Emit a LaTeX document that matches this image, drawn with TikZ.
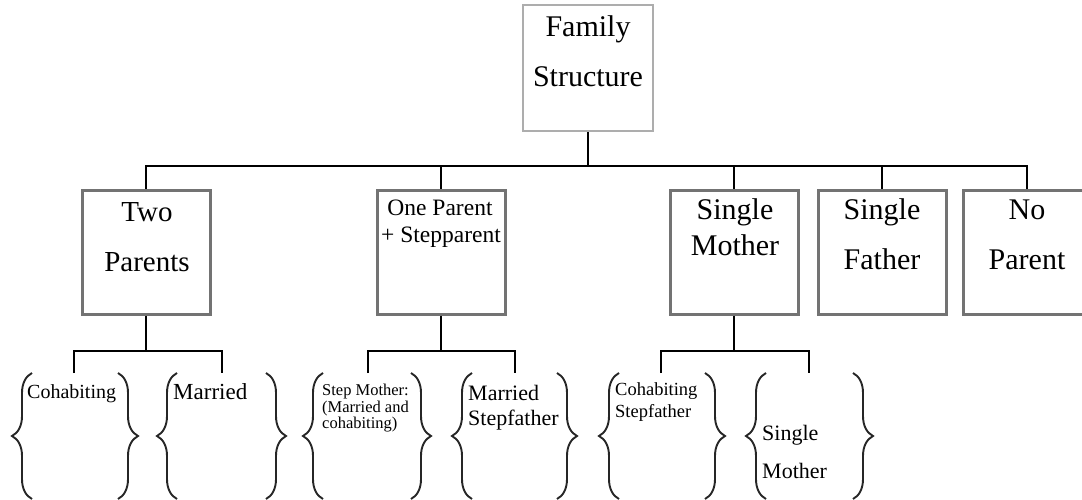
\documentclass[tikz,border=0pt]{standalone}
\usepackage{fontspec}
\setmainfont{Liberation Serif}
\usetikzlibrary{decorations.pathreplacing}
\newcommand\fsz[1]{\fontsize{#1}{#1}\selectfont}
\begin{document}
\begin{tikzpicture}[x=1pt,y=-1pt,
 box/.style={draw=black!55, line width=3pt, rectangle, minimum width=128pt, minimum height=124pt, inner sep=0pt},
 topbox/.style={draw=black!32, line width=2.5pt, rectangle, minimum width=130pt, minimum height=126pt, inner sep=0pt},
 conn/.style={line width=1.7pt, black},
 lbl/.style={anchor=base, inner sep=0pt},
 sub/.style={anchor=base west, inner sep=0pt},
 brc/.style={decorate, decoration={brace, amplitude=20pt}, line width=1.9pt, black!85},
]
\useasboundingbox (0,0) rectangle (1082,500);
% boxes
\node[topbox] (fam) at (588,68) {};
\node[box] (tp) at (146,252) {};
\node[box] (op) at (441,252) {};
\node[box] (sm) at (734,252) {};
\node[box] (sf) at (882,252) {};
\node[box] (np) at (1027,252) {};
% top texts
\node[lbl, font=\fsz{30}] (famA) at (588,37) {Family};
\node[lbl, font=\fsz{30}] (famB) at (588,87) {Structure};
\node[lbl, font=\fsz{29}] (tpA) at (147,222) {Two};
\node[lbl, font=\fsz{29}] (tpB) at (147,271) {Parents};
\node[lbl, font=\fsz{23.5}] (opA) at (440,215) {One Parent};
\node[lbl, font=\fsz{23.5}] (opB) at (441,242) {+ Stepparent};
\node[lbl, font=\fsz{30}] (smA) at (735,219) {Single};
\node[lbl, font=\fsz{30}] (smB) at (735,255) {Mother};
\node[lbl, font=\fsz{30}] (sfA) at (882,219) {Single};
\node[lbl, font=\fsz{30}] (sfB) at (882,269) {Father};
\node[lbl, font=\fsz{30}] (npA) at (1027,219) {No};
\node[lbl, font=\fsz{30}] (npB) at (1027,269) {Parent};
% top connectors
\coordinate (j0) at (588,166);
\draw[conn] (fam.south) -- (j0);
\draw[conn] (tp.north) -- (tp.north |- j0) -| (np.north);
\draw[conn] (op.north) -- (op.north |- j0);
\draw[conn] (sm.north) -- (sm.north |- j0);
\draw[conn] (sf.north) -- (sf.north |- j0);
% lower connectors
\coordinate (tph) at (146,351);
\coordinate (tpa) at (74,373);
\coordinate (tpb) at (222,373);
\draw[conn] (tp.south) -- (tph);
\draw[conn] (tpa) |- (tph) -| (tpb);
\coordinate (oph) at (441,351);
\coordinate (opa) at (368,373);
\coordinate (opb) at (515,373);
\draw[conn] (op.south) -- (oph);
\draw[conn] (opa) |- (oph) -| (opb);
\coordinate (smh) at (734,351);
\coordinate (sma) at (661,373);
\coordinate (smb) at (809,373);
\draw[conn] (sm.south) -- (smh);
\draw[conn] (sma) |- (smh) -| (smb);
% braces (left: bottom to top; right: top to bottom)
\draw[brc] (32,499) -- (32,373);
\draw[brc] (118,373) -- (118,499);
\draw[brc] (177,499) -- (177,373);
\draw[brc] (266,373) -- (266,499);
\draw[brc] (323,499) -- (323,373);
\draw[brc] (411,373) -- (411,499);
\draw[brc] (472,499) -- (472,373);
\draw[brc] (557,373) -- (557,499);
\draw[brc] (619,499) -- (619,373);
\draw[brc] (705,373) -- (705,499);
\draw[brc] (766,499) -- (766,373);
\draw[brc] (853,373) -- (853,499);
% lower texts
\node[sub, font=\fsz{20}] (c1) at (27,398) {Cohabiting};
\node[sub, font=\fsz{23}] (m1) at (173,399) {Married};
\node[sub, font=\fsz{16.5}] (s1) at (322,395) {Step Mother:};
\node[sub, font=\fsz{16.5}] (s2) at (322,412) {(Married and};
\node[sub, font=\fsz{16.5}] (s3) at (322,428) {cohabiting)};
\node[sub, font=\fsz{22}] (ms1) at (468,400) {Married};
\node[sub, font=\fsz{22}] (ms2) at (468,425) {Stepfather};
\node[sub, font=\fsz{18.5}] (cs1) at (615,395) {Cohabiting};
\node[sub, font=\fsz{18.5}] (cs2) at (615,417) {Stepfather};
\node[sub, font=\fsz{22}] (sm1) at (762,440) {Single};
\node[sub, font=\fsz{22}] (sm2) at (762,478) {Mother};
\end{tikzpicture}
\end{document}
